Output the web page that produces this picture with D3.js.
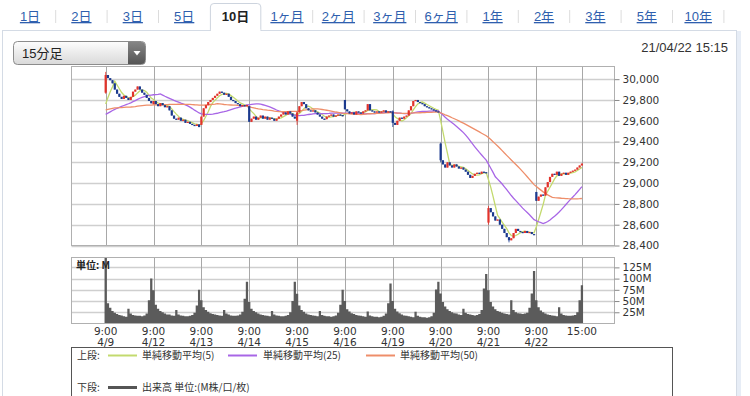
<!DOCTYPE html>
<html>
<head>
<meta charset="utf-8">
<script src="https://cdn.jsdelivr.net/npm/d3@7"></script>
<style>
  body { margin: 0; background: #fff; }
  svg { display: block; }
</style>
</head>
<body>
<div id="chart"></div>
<script>
var svgWidth = 750;
var svgHeight = 396;

// ---------------------------------------------------------------- data
var tabLabels = ["1日", "2日", "3日", "5日", "10日", "1ヶ月", "2ヶ月", "3ヶ月", "6ヶ月", "1年", "2年", "3年", "5年", "10年"];
var selectedTab = "10日";

var days = ["4/9", "4/12", "4/13", "4/14", "4/15", "4/16", "4/19", "4/20", "4/21", "4/22"];
var barsPerDay = 21; // 9:00-11:15, 12:30-14:45, 15:00

// first open of each day
var dayOpens = [29870, 29760, 29560, 29740, 29600, 29800, 29690, 29380, 28620, 28915];

// 15-minute closes, one row per day
var closes = [
  [30040, 30010, 29990, 29960, 29900, 29860, 29830, 29810, 29840, 29820, 29800, 29830, 29880, 29900, 29930, 29900, 29870, 29850, 29820, 29790, 29768],
  [29790, 29760, 29740, 29770, 29750, 29730, 29740, 29700, 29650, 29620, 29610, 29630, 29600, 29610, 29580, 29590, 29570, 29560, 29550, 29565, 29539],
  [29640, 29720, 29750, 29780, 29800, 29820, 29840, 29860, 29880, 29870, 29850, 29860, 29830, 29800, 29790, 29770, 29760, 29740, 29750, 29740, 29752],
  [29590, 29620, 29640, 29610, 29630, 29650, 29620, 29640, 29610, 29630, 29620, 29600, 29620, 29640, 29660, 29680, 29660, 29690, 29670, 29640, 29621],
  [29680, 29740, 29780, 29760, 29720, 29700, 29690, 29700, 29680, 29660, 29640, 29620, 29615, 29640, 29650, 29660, 29640, 29650, 29660, 29655, 29643],
  [29710, 29690, 29670, 29680, 29660, 29690, 29680, 29670, 29690, 29700, 29760, 29700, 29690, 29680, 29690, 29680, 29690, 29700, 29680, 29690, 29683],
  [29580, 29560, 29600, 29630, 29620, 29640, 29650, 29700, 29740, 29790, 29800, 29780, 29770, 29760, 29740, 29730, 29720, 29710, 29700, 29690, 29685],
  [29220, 29180, 29150, 29200, 29170, 29150, 29180, 29160, 29140, 29150, 29130, 29110, 29080, 29050, 29070, 29090, 29100, 29090, 29110, 29105, 29100],
  [28760, 28720, 28680, 28640, 28650, 28600, 28560, 28520, 28480, 28450, 28470, 28520, 28560, 28540, 28530, 28520, 28540, 28520, 28530, 28510, 28509],
  [28830, 28870, 28890, 28880, 28960, 29010, 29060, 29090, 29080, 29110, 29070, 29090, 29100, 29080, 29100, 29110, 29120, 29130, 29150, 29170, 29188]
];

// visible wicks: [day, bar, high, low]
var wicks = [
  [0, 0, 30070, 29860],
  [4, 0, 29690, 29560],
  [6, 0, 29700, 29540],
  [7, 0, 29390, 29200],
  [8, 0, 28780, 28600],
  [8, 9, 28470, 28430]
];

// closes before 4/9 (needed for the moving averages)
var prevCloses = [
  29760, 29740, 29720, 29750, 29780, 29770, 29750, 29730, 29740, 29760, 29790, 29800, 29780,
  29760, 29750, 29740, 29730, 29720, 29740, 29750, 29760, 29740, 29730, 29720, 29730,
  29700, 29680, 29650, 29620, 29600, 29590, 29600, 29620, 29610, 29590, 29600, 29610,
  29630, 29640, 29630, 29650, 29660, 29670, 29680, 29690, 29700, 29710, 29720, 29640
];

// volume in millions, one row per day
var volumes = [
  [147, 45, 35, 28, 24, 21, 19, 18, 16, 15, 33, 22, 19, 18, 17, 17, 16, 18, 22, 52, 100],
  [74, 42, 33, 28, 25, 22, 20, 20, 18, 17, 30, 20, 18, 17, 16, 16, 17, 19, 24, 40, 75],
  [52, 36, 30, 26, 23, 21, 20, 19, 18, 17, 30, 22, 20, 18, 17, 17, 18, 20, 26, 55, 93],
  [48, 33, 28, 25, 22, 20, 19, 18, 17, 16, 28, 20, 18, 17, 16, 16, 17, 19, 25, 50, 93],
  [66, 40, 30, 26, 22, 20, 19, 18, 17, 16, 28, 19, 17, 16, 16, 15, 16, 18, 24, 42, 75],
  [50, 32, 27, 23, 21, 19, 18, 17, 16, 15, 27, 18, 16, 15, 15, 14, 15, 17, 22, 45, 89],
  [50, 33, 27, 23, 20, 18, 17, 16, 15, 14, 26, 17, 15, 14, 14, 13, 14, 16, 24, 76, 93],
  [67, 48, 38, 32, 28, 25, 23, 22, 20, 19, 33, 24, 21, 20, 19, 18, 19, 21, 30, 78, 110],
  [74, 48, 38, 32, 28, 26, 24, 22, 21, 20, 52, 30, 25, 23, 22, 21, 22, 24, 35, 67, 117],
  [52, 36, 29, 25, 22, 20, 19, 18, 17, 16, 36, 22, 19, 18, 17, 17, 18, 19, 25, 52, 85]
];

var priceTicks = [28400, 28600, 28800, 29000, 29200, 29400, 29600, 29800, 30000];
var volumeTicks = [25, 50, 75, 100, 125];

var maPeriods = [5, 25, 50];
var maColors = ["#c3da6e", "#a866e6", "#ee8e6a"];
var legendLabels = ["単純移動平均(5)", "単純移動平均(25)", "単純移動平均(50)"];

// ---------------------------------------------------------------- bars
var bars = [];
closes.forEach(function(row, d) {
  row.forEach(function(c, k) {
    var o = k === 0 ? dayOpens[d] : row[k - 1];
    bars.push({
      i: d * barsPerDay + k,
      open: o,
      close: c,
      high: Math.max(o, c),
      low: Math.min(o, c),
      vol: volumes[d][k]
    });
  });
});
wicks.forEach(function(w) {
  var b = bars[w[0] * barsPerDay + w[1]];
  b.high = Math.max(b.high, w[2]);
  b.low = Math.min(b.low, w[3]);
});
var lastIndex = bars.length - 1;

var allCloses = prevCloses.concat(bars.map(function(b) { return b.close; }));
function sma(n) {
  return bars.map(function(b, j) {
    var end = prevCloses.length + j;
    return { i: b.i, v: d3.mean(allCloses.slice(end - n + 1, end + 1)) };
  });
}

// ---------------------------------------------------------------- svg
var svg = d3.select("#chart")
  .append("svg")
  .attr("width", svgWidth)
  .attr("height", svgHeight)
  .style("font-family", "'Liberation Sans', 'Noto Sans CJK JP', sans-serif");

var defs = svg.append("defs");

// outer panel
svg.append("rect")
  .attr("x", 2.5).attr("y", 30.5)
  .attr("width", 734).attr("height", 400)
  .attr("fill", "#fff")
  .attr("stroke", "#d4dbe5");
svg.append("rect")
  .attr("x", 737).attr("y", 31)
  .attr("width", 4).attr("height", 370)
  .attr("fill", "#e7edf6");

// ---------------------------------------------------------------- tabs
var tabScale = d3.scaleBand().domain(tabLabels).range([4.3, 723.9]);
var tabGroup = svg.append("g");

var sx0 = tabScale(selectedTab), sx1 = sx0 + tabScale.bandwidth();
tabGroup.append("path")
  .attr("d", "M" + (sx0 + 0.5) + ",31 V7 Q" + (sx0 + 0.5) + ",3.5 " + (sx0 + 4) + ",3.5 H" + (sx1 - 4) +
    " Q" + (sx1 - 0.5) + ",3.5 " + (sx1 - 0.5) + ",7 V31")
  .attr("fill", "#fff")
  .attr("stroke", "#cdd4de");
tabGroup.append("rect")
  .attr("x", sx0 + 1).attr("y", 29).attr("width", sx1 - sx0 - 2).attr("height", 3)
  .attr("fill", "#fff");

tabGroup.selectAll("line.sep")
  .data(tabLabels.filter(function(d, i) {
    return i < tabLabels.length - 1 && d !== selectedTab && tabLabels[i + 1] !== selectedTab;
  }).concat([tabLabels[tabLabels.length - 1]]))
  .enter()
  .append("line")
  .attr("x1", function(d) { return tabScale(d) + tabScale.bandwidth(); })
  .attr("x2", function(d) { return tabScale(d) + tabScale.bandwidth(); })
  .attr("y1", 10).attr("y2", 23)
  .attr("stroke", "#dcdcdc");

tabGroup.selectAll("text")
  .data(tabLabels)
  .enter()
  .append("text")
  .attr("x", function(d) { return tabScale(d) + tabScale.bandwidth() / 2; })
  .attr("y", 21)
  .attr("text-anchor", "middle")
  .attr("font-size", 13)
  .attr("font-weight", function(d) { return d === selectedTab ? "bold" : "normal"; })
  .attr("fill", function(d) { return d === selectedTab ? "#222" : "#2f5fae"; })
  .attr("text-decoration", function(d) { return d === selectedTab ? "none" : "underline"; })
  .text(function(d) { return d; });

// ---------------------------------------------------------------- dropdown + timestamp
var g1 = defs.append("linearGradient").attr("id", "ddFill").attr("x1", 0).attr("y1", 0).attr("x2", 0).attr("y2", 1);
g1.append("stop").attr("offset", "0%").attr("stop-color", "#fdfdfd");
g1.append("stop").attr("offset", "100%").attr("stop-color", "#d9d9d9");
var g2 = defs.append("linearGradient").attr("id", "ddBtn").attr("x1", 0).attr("y1", 0).attr("x2", 0).attr("y2", 1);
g2.append("stop").attr("offset", "0%").attr("stop-color", "#858585");
g2.append("stop").attr("offset", "100%").attr("stop-color", "#555");

svg.append("rect")
  .attr("x", 13.5).attr("y", 41.5).attr("width", 132).attr("height", 23).attr("rx", 4)
  .attr("fill", "url(#ddFill)").attr("stroke", "#8c8c8c");
svg.append("path")
  .attr("d", "M128,42 H141.5 Q145,42 145,45.5 V60.5 Q145,64 141.5,64 H128 Z")
  .attr("fill", "url(#ddBtn)");
svg.append("path")
  .attr("d", "M133.5,51 H140.5 L137,55.5 Z")
  .attr("fill", "#fff");
svg.append("text")
  .attr("x", 22).attr("y", 58)
  .attr("font-size", 13).attr("fill", "#222")
  .text("15分足");

svg.append("text")
  .attr("x", 728).attr("y", 51.5)
  .attr("text-anchor", "end")
  .attr("font-size", 13).attr("fill", "#333")
  .text("21/04/22 15:15");

// ---------------------------------------------------------------- scales
var plotLeft = 71.5, plotRight = 614.5;
var priceTop = 66.5, priceBottom = 245.5;
var volTop = 257.5, volBottom = 323.5;

var xScale = d3.scaleLinear()
  .domain([-15, lastIndex + 14.3])
  .range([plotLeft, plotRight]);
var pitch = xScale(1) - xScale(0);

var yScale = d3.scaleLinear()
  .domain([28400, 30122])
  .range([priceBottom, priceTop]);

var vScale = d3.scaleLinear()
  .domain([0, 147])
  .range([volBottom, volTop]);

var dayLines = days.map(function(d, k) { return k * barsPerDay; }).concat([lastIndex]);

// ---------------------------------------------------------------- price panel
var priceGroup = svg.append("g");

priceGroup.selectAll("line.hgrid")
  .data(priceTicks)
  .enter()
  .append("line")
  .attr("x1", plotLeft).attr("x2", plotRight)
  .attr("y1", function(d) { return Math.round(yScale(d)) + 0.5; })
  .attr("y2", function(d) { return Math.round(yScale(d)) + 0.5; })
  .attr("stroke", "#cfcfcf").attr("stroke-width", 1.6);

priceGroup.selectAll("line.vgrid")
  .data(dayLines)
  .enter()
  .append("line")
  .attr("x1", function(d) { return Math.round(xScale(d)) + 0.5; })
  .attr("x2", function(d) { return Math.round(xScale(d)) + 0.5; })
  .attr("y1", priceTop).attr("y2", priceBottom)
  .attr("stroke", "#a8a8a8");

priceGroup.append("rect")
  .attr("x", plotLeft).attr("y", priceTop)
  .attr("width", plotRight - plotLeft).attr("height", priceBottom - priceTop)
  .attr("fill", "none").attr("stroke", "#b0b0b0");

defs.append("clipPath").attr("id", "clipPrice")
  .append("rect")
  .attr("x", plotLeft).attr("y", priceTop)
  .attr("width", plotRight - plotLeft).attr("height", priceBottom - priceTop);

var candleGroup = priceGroup.append("g").attr("clip-path", "url(#clipPrice)");

// moving averages
maPeriods.forEach(function(n, k) {
  var line = d3.line()
    .x(function(d) { return xScale(d.i); })
    .y(function(d) { return yScale(d.v); });
  candleGroup.append("path")
    .datum(sma(n))
    .attr("d", line)
    .attr("fill", "none")
    .attr("stroke", maColors[k])
    .attr("stroke-width", 1.3);
});

function candleColor(b) { return b.close >= b.open ? "#e2332b" : "#1b3a8e"; }

candleGroup.selectAll("line.wick")
  .data(bars)
  .enter()
  .append("line")
  .attr("x1", function(d) { return xScale(d.i); })
  .attr("x2", function(d) { return xScale(d.i); })
  .attr("y1", function(d) { return yScale(d.high); })
  .attr("y2", function(d) { return yScale(d.low); })
  .attr("stroke", candleColor)
  .attr("stroke-width", 0.8);

candleGroup.selectAll("rect.body")
  .data(bars)
  .enter()
  .append("rect")
  .attr("x", function(d) { return xScale(d.i) - 1.1; })
  .attr("width", 2.2)
  .attr("y", function(d) { return yScale(Math.max(d.open, d.close)); })
  .attr("height", function(d) { return Math.max(1.2, Math.abs(yScale(d.open) - yScale(d.close))); })
  .attr("fill", candleColor);

var priceAxis = d3.axisRight(yScale)
  .tickValues(priceTicks)
  .tickSize(5)
  .tickPadding(3)
  .tickFormat(d3.format(","));

priceGroup.append("g")
  .attr("transform", "translate(" + plotRight + ",0)")
  .call(priceAxis)
  .call(function(g) { g.select(".domain").remove(); })
  .call(function(g) {
    g.selectAll(".tick line").attr("stroke", "#888");
    g.selectAll(".tick text")
      .attr("font-family", "'DejaVu Sans', sans-serif")
      .attr("font-size", 10.5)
      .attr("fill", "#333");
  });

// ---------------------------------------------------------------- volume panel
var volGroup = svg.append("g");

volGroup.selectAll("line.hgrid")
  .data(volumeTicks)
  .enter()
  .append("line")
  .attr("x1", plotLeft).attr("x2", plotRight)
  .attr("y1", function(d) { return Math.round(vScale(d)) + 0.5; })
  .attr("y2", function(d) { return Math.round(vScale(d)) + 0.5; })
  .attr("stroke", "#cfcfcf").attr("stroke-width", 1.6);

volGroup.selectAll("line.vgrid")
  .data(dayLines)
  .enter()
  .append("line")
  .attr("x1", function(d) { return Math.round(xScale(d)) + 0.5; })
  .attr("x2", function(d) { return Math.round(xScale(d)) + 0.5; })
  .attr("y1", volTop).attr("y2", volBottom)
  .attr("stroke", "#a8a8a8");

defs.append("clipPath").attr("id", "clipVol")
  .append("rect")
  .attr("x", plotLeft).attr("y", volTop)
  .attr("width", plotRight - plotLeft).attr("height", volBottom - volTop);

// volume histogram as one stepped area so neighbouring bars touch
var volSteps = [];
bars.forEach(function(b) {
  volSteps.push({ x: b.i - 0.5, v: b.vol });
  volSteps.push({ x: b.i + 0.5, v: b.vol });
});
var volArea = d3.area()
  .x(function(d) { return xScale(d.x); })
  .y0(vScale(0))
  .y1(function(d) { return vScale(d.v); });

volGroup.append("path")
  .datum(volSteps)
  .attr("clip-path", "url(#clipVol)")
  .attr("d", volArea)
  .attr("fill", "#5b5b5b");

volGroup.append("rect")
  .attr("x", plotLeft).attr("y", volTop)
  .attr("width", plotRight - plotLeft).attr("height", volBottom - volTop)
  .attr("fill", "none").attr("stroke", "#b0b0b0");

volGroup.append("text")
  .attr("x", 76).attr("y", 269)
  .attr("font-family", "'Noto Sans CJK JP', sans-serif")
  .attr("font-size", 10).attr("font-weight", "bold").attr("fill", "#222")
  .text("単位: M");

var volAxis = d3.axisRight(vScale)
  .tickValues(volumeTicks)
  .tickSize(5)
  .tickPadding(3)
  .tickFormat(function(d) { return d + "M"; });

volGroup.append("g")
  .attr("transform", "translate(" + plotRight + ",0)")
  .call(volAxis)
  .call(function(g) { g.select(".domain").remove(); })
  .call(function(g) {
    g.selectAll(".tick line").attr("stroke", "#888");
    g.selectAll(".tick text")
      .attr("font-family", "'DejaVu Sans', sans-serif")
      .attr("font-size", 10.5)
      .attr("fill", "#333");
  });

// ---------------------------------------------------------------- time labels
var timeLabels = svg.append("g")
  .attr("font-family", "'DejaVu Sans', sans-serif")
  .attr("font-size", 10.5)
  .attr("fill", "#333")
  .attr("text-anchor", "middle");

timeLabels.selectAll("text.time")
  .data(dayLines)
  .enter()
  .append("text")
  .attr("x", function(d) { return xScale(d); })
  .attr("y", 335)
  .text(function(d) { return d === lastIndex ? "15:00" : "9:00"; });

timeLabels.selectAll("text.date")
  .data(days)
  .enter()
  .append("text")
  .attr("x", function(d, k) { return xScale(k * barsPerDay); })
  .attr("y", 346)
  .text(function(d) { return d; });

// ---------------------------------------------------------------- legend
var legend = svg.append("g")
  .attr("font-family", "'Noto Sans CJK JP', sans-serif")
  .attr("font-size", 10)
  .attr("fill", "#333");

legend.append("rect")
  .attr("x", 71.5).attr("y", 347.5)
  .attr("width", 601).attr("height", 60)
  .attr("fill", "#fff").attr("stroke", "#555");

legend.append("text").attr("x", 77).attr("y", 359).text("上段:");
legend.append("text").attr("x", 77).attr("y", 391).text("下段:");

var legendLineX = [108, 228, 366];
var legendTextX = [142, 263, 400];
legendLabels.forEach(function(lbl, k) {
  legend.append("line")
    .attr("x1", legendLineX[k]).attr("x2", legendLineX[k] + 29)
    .attr("y1", 355.5).attr("y2", 355.5)
    .attr("stroke", maColors[k]).attr("stroke-width", 2);
  legend.append("text").attr("x", legendTextX[k]).attr("y", 359).text(lbl);
});

legend.append("line")
  .attr("x1", 108).attr("x2", 137)
  .attr("y1", 387.5).attr("y2", 387.5)
  .attr("stroke", "#555").attr("stroke-width", 3);
legend.append("text").attr("x", 142).attr("y", 391).text("出来高 単位:(M株/口/枚)");
</script>
</body>
</html>
